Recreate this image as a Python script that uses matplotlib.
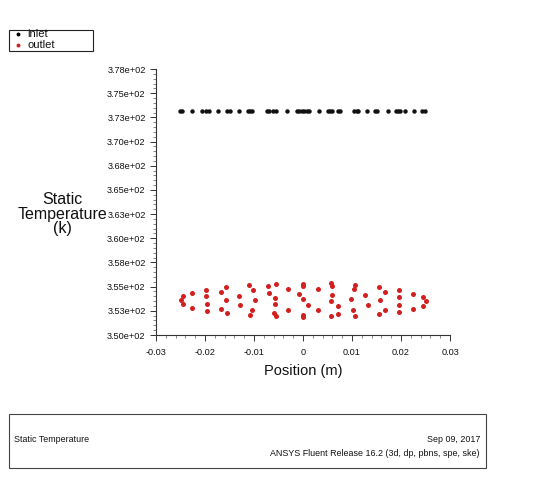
import matplotlib
matplotlib.use("Agg")
import matplotlib.pyplot as plt
from matplotlib.patches import Rectangle
from matplotlib.lines import Line2D
from matplotlib.ticker import FixedLocator, MultipleLocator

plt.rcParams["font.family"] = ["Liberation Sans", "DejaVu Sans"]

# inlet: all points sit at 373.15 K
inlet_x = [-0.0252, -0.0247, -0.0227, -0.0207, -0.0197, -0.0192, -0.0173, -0.0156,
           -0.0150, -0.0131, -0.0113, -0.0109, -0.0105, -0.0074, -0.0070, -0.0061,
           -0.0055, -0.0033, -0.0013, -0.0008, -0.0003, 0.0003, 0.0008, 0.0013,
           0.0033, 0.0052, 0.0055, 0.0059, 0.0072, 0.0076, 0.0105, 0.0110,
           0.0113, 0.0130, 0.0147, 0.0152, 0.0173, 0.0190, 0.0193, 0.0197,
           0.0209, 0.0226, 0.0243, 0.0248]
inlet_t = [373.15] * len(inlet_x)

outlet_x = [-0.0250, -0.0244, -0.0244, -0.0227, -0.0227, -0.0197, -0.0197, -0.0196,
            -0.0196, -0.0168, -0.0168, -0.0157, -0.0158, -0.0156, -0.0131, -0.0128,
            -0.0110, -0.0103, -0.0098, -0.0104, -0.0109, -0.0072, -0.0070, -0.0056,
            -0.0058, -0.0057, -0.0059, -0.0056, -0.0031, -0.0031, -0.0009,
            0.0000, 0.0000, 0.0000, 0.0000, 0.0000, 0.0010, 0.0031, 0.0031,
            0.0057, 0.0059, 0.0059, 0.0057, 0.0071, 0.0072, 0.0057, 0.0098,
            0.0104, 0.0107, 0.0102, 0.0107, 0.0126, 0.0132, 0.0156, 0.0167,
            0.0158, 0.0167, 0.0156, 0.0196, 0.0196, 0.0196, 0.0196, 0.0225,
            0.0225, 0.0244, 0.0250, 0.0244]
outlet_t = [353.63, 354.01, 353.18, 354.36, 352.77, 354.70, 354.05, 353.18,
            352.46, 354.49, 352.67, 354.98, 353.60, 352.25, 354.08, 353.11,
            355.22, 354.70, 353.60, 352.56, 352.11, 355.05, 354.36, 355.26,
            353.87, 353.18, 352.25, 351.97, 354.74, 352.62, 354.28,
            355.32, 355.11, 353.73, 352.11, 351.90, 353.11, 354.74, 352.59,
            355.36, 355.08, 354.15, 353.53, 353.04, 352.21, 351.97, 353.73,
            354.77, 355.15, 352.59, 352.00, 354.18, 353.14, 354.98, 354.49,
            353.60, 352.56, 352.21, 354.70, 353.97, 353.08, 352.42, 354.28,
            352.73, 353.91, 353.53, 353.04]

y_ticks = [350.0, 352.5, 355.0, 357.5, 360.0, 362.5, 365.0, 367.5, 370.0, 372.5, 375.0, 377.5]
y_labels = ["3.50e+02", "3.53e+02", "3.55e+02", "3.58e+02", "3.60e+02", "3.63e+02",
            "3.65e+02", "3.68e+02", "3.70e+02", "3.73e+02", "3.75e+02", "3.78e+02"]
x_ticks = [-0.03, -0.02, -0.01, 0, 0.01, 0.02, 0.03]
x_labels = ["-0.03", "-0.02", "-0.01", "0", "0.01", "0.02", "0.03"]

W, H = 536, 479
fig = plt.figure(figsize=(W / 100, H / 100), dpi=100)
ax = fig.add_axes([156 / W, 1 - 335 / H, (450 - 156) / W, (335 - 69) / H])

red = "#d21f1f"
ax.plot(inlet_x, inlet_t, "o", color="#111111", ms=3.2, mew=0)
ax.plot(outlet_x, outlet_t, "o", color=red, ms=3.6, mew=0)

ax.set_xlim(-0.03, 0.03)
ax.set_ylim(350, 377.5)
ax.spines["top"].set_visible(False)
ax.spines["right"].set_visible(False)
for s in ["left", "bottom"]:
    ax.spines[s].set_linewidth(0.8)
    ax.spines[s].set_color("#333333")

ax.yaxis.set_major_locator(FixedLocator(y_ticks))
ax.set_yticklabels(y_labels)
ax.yaxis.set_minor_locator(MultipleLocator(0.5))
ax.xaxis.set_major_locator(FixedLocator(x_ticks))
ax.set_xticklabels(x_labels)
ax.xaxis.set_minor_locator(MultipleLocator(0.002))

ax.tick_params(axis="both", which="major", direction="out", length=4.5, width=0.7,
               labelsize=6.6, color="#333333", labelcolor="#111111")
ax.tick_params(axis="both", which="minor", direction="out", length=2.2, width=0.5,
               color="#555555")
ax.tick_params(axis="y", which="major", pad=3)
ax.tick_params(axis="x", which="major", pad=5)

ax.set_xlabel("Position (m)", fontsize=10.5, labelpad=5, color="#111111")
fig.text(62 / W, 1 - 214 / H, "Static\nTemperature\n(k)", fontsize=11.5, color="#111111",
         ha="center", va="center", multialignment="center", linespacing=0.95)

# legend box
fig.patches.append(Rectangle((9 / W, 1 - 51 / H), 84 / W, 21 / H, transform=fig.transFigure,
                             fill=False, edgecolor="#222222", linewidth=0.8))
fig.add_artist(Line2D([18 / W], [1 - 34 / H], marker="o", color="black", ms=2.8, mew=0,
                      transform=fig.transFigure))
fig.add_artist(Line2D([18 / W], [1 - 45 / H], marker="o", color=red, ms=2.8, mew=0,
                      transform=fig.transFigure))
fig.text(27 / W, 1 - 34 / H, "inlet", fontsize=8, va="center", ha="left", color="#111111")
fig.text(27 / W, 1 - 45 / H, "outlet", fontsize=8, va="center", ha="left", color="#111111")

# footer box
fig.patches.append(Rectangle((9 / W, 1 - 468 / H), 477 / W, 54 / H, transform=fig.transFigure,
                             fill=False, edgecolor="#444444", linewidth=0.8))
fig.text(14 / W, 1 - 440 / H, "Static Temperature", fontsize=6.4, va="center", ha="left",
         color="#111111")
fig.text(480 / W, 1 - 440 / H, "Sep 09, 2017", fontsize=6.4, va="center", ha="right",
         color="#111111")
fig.text(480 / W, 1 - 453.5 / H, "ANSYS Fluent Release 16.2 (3d, dp, pbns, spe, ske)",
         fontsize=6.4, va="center", ha="right", color="#111111")

fig.savefig("out.png", dpi=100)
